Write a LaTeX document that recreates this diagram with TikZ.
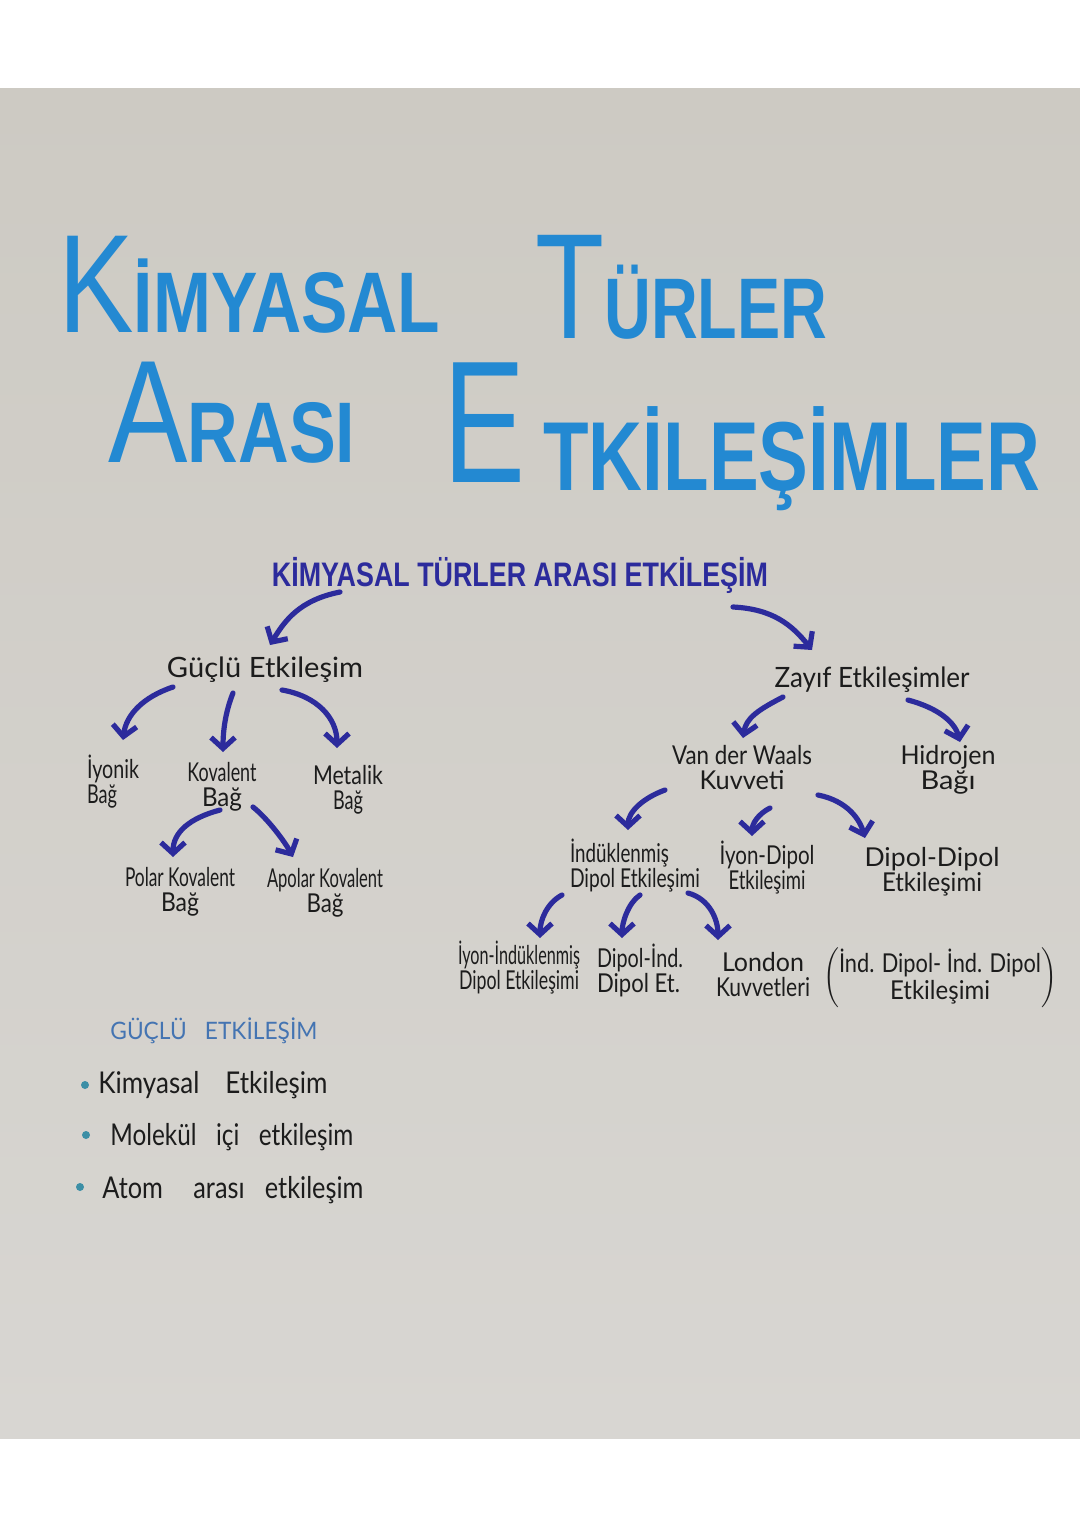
\documentclass[tikz,border=0pt]{standalone}
\usepackage{fontspec}
\usepackage{graphicx}
\setmainfont{Lato}
\newfontfamily\titlefont{Liberation Sans}
\usetikzlibrary{arrows.meta}
\definecolor{paperA}{HTML}{CDCAC3}
\definecolor{paperB}{HTML}{E3E2DF}
\definecolor{paperC}{HTML}{D8D6D2}
\definecolor{titleblue}{HTML}{2389D2}
\definecolor{arrowblue}{HTML}{2C2B9C}
\definecolor{headblue}{HTML}{4474B2}
\definecolor{dotteal}{HTML}{3C8FA6}
\definecolor{ink}{HTML}{1C1C1C}
\newcommand{\fw}[2]{\resizebox{#1pt}{\height}{#2}}
\begin{document}
\begin{tikzpicture}[x=0.5pt,y=-0.5pt,
  ttl/.style={font=\titlefont, text=titleblue, inner sep=0pt, anchor=base west},
  lbl/.style={font=\fontsize{13}{12.5}\selectfont, text=ink, inner sep=0pt, align=center},
  lbll/.style={lbl, align=left},
  item/.style={font=\fontsize{15}{15}\selectfont, text=ink, inner sep=0pt, anchor=west},
  arr/.style={draw=arrowblue, line width=2.6pt, line cap=round,
    -{Straight Barb[length=5.5pt,width=12pt]}},
  bullet/.style={circle, fill=dotteal, inner sep=0pt, minimum size=4pt}]
\useasboundingbox (0,0) rectangle (1080,1527);
\fill[white] (0,0) rectangle (1080,1527);
\fill[top color=paperA, middle color=paperB, bottom color=paperC] (0,88) rectangle (1080,1438);

% Title
\node[ttl] (t1) at (58,332) {\fw{191}{{\fontsize{70}{70}\selectfont K}{\bfseries\fontsize{43}{43}\selectfont İMYASAL}}};
\node[ttl] (t2) at (535,338) {\fw{146}{{\fontsize{75}{75}\selectfont T}{\bfseries\fontsize{43}{43}\selectfont ÜRLER}}};
\node[ttl] (t3) at (108,462) {\fw{123.5}{{\fontsize{73}{73}\selectfont A}{\bfseries\fontsize{43}{43}\selectfont RASI}}};
\node[ttl] (t4) at (443,482) {\fw{41}{\fontsize{87}{87}\selectfont E}};
\node[ttl] (t5) at (543,490) {\fw{248.5}{\bfseries\fontsize{49}{49}\selectfont TKİLEŞİMLER}};

% Subtitle
\node[font=\titlefont\bfseries\fontsize{17}{17}\selectfont, text=arrowblue, inner sep=0pt] (sub) at (520,575) {\fw{248}{KİMYASAL TÜRLER ARASI ETKİLEŞİM}};

% Left tree
\node[lbl, font=\fontsize{14}{14}\selectfont] (guclu) at (265,670) {\fw{98}{Güçlü Etkileşim}};
\node[lbll] (iyonik) at (113,782) {\fw{26}{İyonik}\\\fw{15}{Bağ}};
\node[lbl] (kovalent) at (222,787) {\fw{34.5}{Kovalent}\\\fw{20}{Bağ}};
\node[lbl] (metalik) at (348,790) {\fw{35}{Metalik}\\\fw{15}{Bağ}};
\node[lbl] (polar) at (180,892) {\fw{55}{Polar Kovalent}\\\fw{19}{Bağ}};
\node[lbl] (apolar) at (325,893) {\fw{58}{Apolar Kovalent}\\\fw{18.5}{Bağ}};

% Right tree
\node[lbl, font=\fontsize{14}{14}\selectfont] (zayif) at (872,680) {\fw{97.5}{Zayıf Etkileşimler}};
\node[lbl] (vdw) at (742,768) {\fw{70}{Van der Waals}\\\fw{42.5}{Kuvveti}};
\node[lbl] (hidrojen) at (948,770) {\fw{47.5}{Hidrojen}\\\fw{27.5}{Bağı}};
\node[lbll] (induk) at (635,866) {\fw{49.5}{İndüklenmiş}\\\fw{65}{Dipol Etkileşimi}};
\node[lbl] (iyondip) at (767,868) {\fw{47.5}{İyon-Dipol}\\\fw{38.5}{Etkileşimi}};
\node[lbl] (dipdip) at (932,872) {\fw{67.5}{Dipol-Dipol}\\\fw{50}{Etkileşimi}};
\node[lbl] (iyonind) at (519,968) {\fw{61}{İyon-İndüklenmiş}\\\fw{60}{Dipol Etkileşimi}};
\node[lbll] (dipind) at (640,970) {\fw{43}{Dipol-İnd.}\\\fw{41.5}{Dipol Et.}};
\node[lbl] (london) at (763,975) {\fw{41}{London}\\\fw{47}{Kuvvetleri}};
\node[lbl] (indind) at (940,978) {$\left(\vcenter{\hbox{\begin{tabular}{@{}c@{}}\fw{101}{İnd. Dipol- İnd. Dipol}\\\fw{50}{Etkileşimi}\end{tabular}}}\right)$};

% Arrows
\draw[arr] ([shift={(-180,17)}]sub.center) .. controls +(-40,8) and +(15,-25) .. ([shift={(5,-25)}]guclu.center);
\draw[arr] ([shift={(213,32)}]sub.center) .. controls +(40,2) and +(-20,-25) .. ([shift={(-60,-30)}]zayif.center);

\draw[arr] ([shift={(-92,17)}]guclu.center) .. controls +(-30,10) and +(3,-25) .. ([shift={(10,-42)}]iyonik.center);
\draw[arr] ([shift={(-32,23)}]guclu.center) .. controls +(-8,20) and +(0,-20) .. ([shift={(1,-35)}]kovalent.center);
\draw[arr] ([shift={(17,20)}]guclu.center) .. controls +(35,6) and +(0,-30) .. ([shift={(-11,-42)}]metalik.center);
\draw[arr] ([shift={(-2,23)}]kovalent.center) .. controls +(-30,8) and +(0,-25) .. ([shift={(-7,-35)}]polar.center);
\draw[arr] ([shift={(31,20)}]kovalent.center) .. controls +(15,12) and +(-8,-15) .. ([shift={(-32,-36)}]apolar.center);

\draw[arr] ([shift={(-89,17)}]zayif.center) .. controls +(-25,13) and +(3,-20) .. ([shift={(1,-30)}]vdw.center);
\draw[arr] ([shift={(36,20)}]zayif.center) .. controls +(30,8) and +(-5,-20) .. ([shift={(12,-28)}]hidrojen.center);
\draw[arr] ([shift={(-77,22)}]vdw.center) .. controls +(-22,8) and +(0,-18) .. ([shift={(-7,-36)}]induk.center);
\draw[arr] ([shift={(28,40)}]vdw.center) .. controls +(-12,6) and +(0,-12) .. ([shift={(-15,-32)}]iyondip.center);
\draw[arr] ([shift={(76,27)}]vdw.center) .. controls +(30,6) and +(-5,-18) .. ([shift={(-67,-34)}]dipdip.center);
\draw[arr] ([shift={(-73,29)}]induk.center) .. controls +(-15,8) and +(0,-18) .. ([shift={(21,-30)}]iyonind.center);
\draw[arr] ([shift={(5,29)}]induk.center) .. controls +(-12,8) and +(0,-15) .. ([shift={(-18,-32)}]dipind.center);
\draw[arr] ([shift={(53,27)}]induk.center) .. controls +(22,6) and +(0,-20) .. ([shift={(-45,-35)}]london.center);

% Bottom-left list
\node[font=\fontsize{12}{12}\selectfont, text=headblue, inner sep=0pt, anchor=west] (head) at (110,1031) {\fw{103.5}{GÜÇLÜ\hspace{0.8em}ETKİLEŞİM}};
\node[bullet] (b1) at (85,1085) {};
\node[bullet] (b2) at (86,1135) {};
\node[bullet] (b3) at (80,1187) {};
\node[item] (l1) at (98,1085) {\fw{114.5}{Kimyasal\hspace{1em}Etkileşim}};
\node[item] (l2) at (110,1137) {\fw{121.5}{Molekül\hspace{0.8em}içi\hspace{0.8em}etkileşim}};
\node[item] (l3) at (102,1190) {\fw{130.5}{Atom\hspace{1.2em}arası\hspace{0.8em}etkileşim}};
\end{tikzpicture}
\end{document}
